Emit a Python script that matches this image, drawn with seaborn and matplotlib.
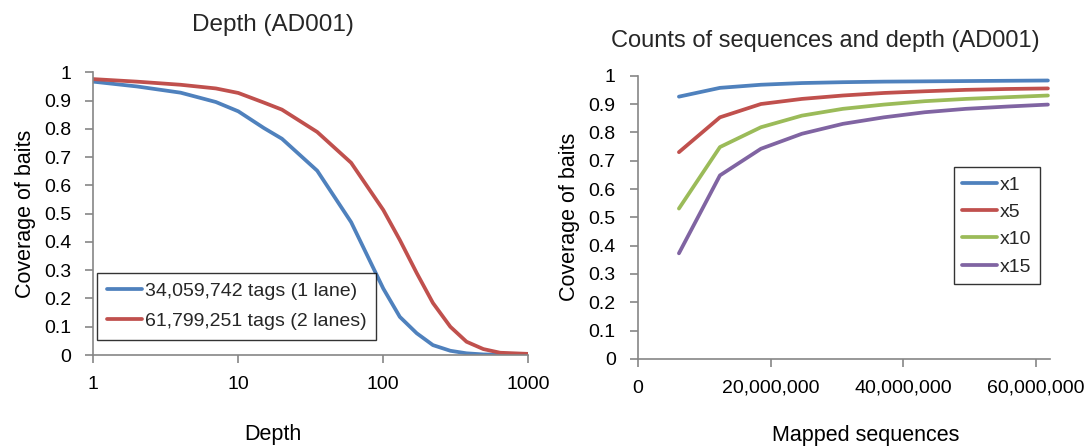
import matplotlib
matplotlib.use("Agg")
import matplotlib.pyplot as plt
import matplotlib.ticker as mticker
import pandas as pd
import seaborn as sns

# Coverage of baits vs depth, for the two sequencing runs
depth = [1, 2, 4, 7, 10, 15, 20, 35, 60, 100, 130, 170, 220, 290, 375, 490, 640, 1000]
cov_1lane = [0.967, 0.950, 0.928, 0.895, 0.862, 0.803, 0.765, 0.652, 0.470, 0.235,
             0.135, 0.077, 0.035, 0.015, 0.006, 0.002, 0.001, 0.000]
cov_2lanes = [0.976, 0.967, 0.956, 0.943, 0.927, 0.893, 0.868, 0.789, 0.680, 0.513,
              0.407, 0.290, 0.184, 0.100, 0.047, 0.021, 0.008, 0.004]
run_labels = ["34,059,742 tags (1 lane)", "61,799,251 tags (2 lanes)"]

# Coverage of baits vs number of mapped sequences at several depth thresholds
mapped = [6179925, 12359850, 18539775, 24719700, 30899625,
          37079550, 43259475, 49439400, 55619325, 61799251]
cov_x1 = [0.926, 0.957, 0.968, 0.974, 0.977, 0.979, 0.980, 0.981, 0.982, 0.983]
cov_x5 = [0.730, 0.853, 0.900, 0.918, 0.930, 0.939, 0.945, 0.950, 0.953, 0.955]
cov_x10 = [0.531, 0.748, 0.818, 0.859, 0.883, 0.898, 0.910, 0.918, 0.924, 0.930]
cov_x15 = [0.373, 0.648, 0.742, 0.795, 0.830, 0.853, 0.871, 0.883, 0.891, 0.898]
depth_labels = ["x1", "x5", "x10", "x15"]

yticks = [0, 0.1, 0.2, 0.3, 0.4, 0.5, 0.6, 0.7, 0.8, 0.9, 1]
depth_ticks = [1, 10, 100, 1000]
mapped_ticks = [0, 20000000, 40000000, 60000000]

blue, red, green, purple = "#4F81BD", "#C0504D", "#9BBB59", "#8064A2"
axis_grey = "#868686"

sns.set_theme(style="white")
plt.rcParams["font.family"] = ["Liberation Sans", "DejaVu Sans"]

df_depth = pd.DataFrame({
    "Depth": depth * 2,
    "Coverage": cov_1lane + cov_2lanes,
    "Run": [run_labels[0]] * len(depth) + [run_labels[1]] * len(depth),
})
df_mapped = pd.DataFrame({
    "Mapped": mapped * 4,
    "Coverage": cov_x1 + cov_x5 + cov_x10 + cov_x15,
    "Threshold": sum([[lab] * len(mapped) for lab in depth_labels], []),
})

fig = plt.figure(figsize=(10.89, 4.47), dpi=100)
ax1 = fig.add_axes([0.0857, 0.2058, 0.3994, 0.6324])
ax2 = fig.add_axes([0.5858, 0.1969, 0.3783, 0.6338])

sns.lineplot(data=df_depth, x="Depth", y="Coverage", hue="Run", sort=False,
             palette=[blue, red], linewidth=2.7, ax=ax1)
sns.lineplot(data=df_mapped, x="Mapped", y="Coverage", hue="Threshold", sort=False,
             palette=[blue, red, green, purple], linewidth=2.7, ax=ax2)

ax1.set_xscale("log")
ax1.set_xlim(1, 1000)
ax1.set_xticks(depth_ticks)
ax1.xaxis.set_major_formatter(mticker.FuncFormatter(lambda v, p: f"{v:g}"))
ax1.xaxis.set_minor_locator(mticker.NullLocator())

ax2.set_xlim(0, 62100000)
ax2.set_xticks(mapped_ticks)
ax2.xaxis.set_major_formatter(mticker.FuncFormatter(lambda v, p: f"{int(v):,}"))

for ax in (ax1, ax2):
    ax.set_ylim(0, 1)
    ax.set_yticks(yticks)
    ax.yaxis.set_major_formatter(mticker.FuncFormatter(lambda v, p: f"{v:g}"))
    for side in ("top", "right"):
        ax.spines[side].set_visible(False)
    for side in ("left", "bottom"):
        ax.spines[side].set_color(axis_grey)
        ax.spines[side].set_linewidth(1.2)
    ax.tick_params(axis="both", which="major", direction="out", length=6,
                   width=1.2, color=axis_grey, labelsize=14, labelcolor="black")
    ax.tick_params(axis="y", pad=10, left=True)
    ax.tick_params(axis="x", pad=9, bottom=True)
    ax.set_ylabel("Coverage of baits", fontsize=15.5, color="black", labelpad=6)

# axis titles sit centred on the whole chart area, not just the plot area
ax1.set_xlabel("Depth", fontsize=15.5, color="black")
ax2.set_xlabel("Mapped sequences", fontsize=15.5, color="black")
ax1.xaxis.set_label_coords(0.413, -0.245)
ax2.xaxis.set_label_coords(0.553, -0.232)
ax1.set_title("Depth (AD001)", fontsize=17.5, pad=30, x=0.413)
ax2.set_title("Counts of sequences and depth (AD001)", fontsize=17, pad=21, x=0.456)

leg1 = ax1.legend(loc="lower left", bbox_to_anchor=(0.0085, 0.053), fontsize=14,
                  frameon=True, fancybox=False, edgecolor="black",
                  handlelength=1.8, handletextpad=0.15, borderpad=0.5,
                  labelspacing=0.65, borderaxespad=0.0)
leg1.get_frame().set_linewidth(1.0)
leg2 = ax2.legend(loc="upper right", bbox_to_anchor=(0.977, 0.677), fontsize=14,
                  frameon=True, fancybox=False, edgecolor="black",
                  handlelength=1.8, handletextpad=0.15, borderpad=0.45,
                  labelspacing=0.5, borderaxespad=0.0)
leg2.get_frame().set_linewidth(1.0)

fig.savefig("out.png", dpi=100)
